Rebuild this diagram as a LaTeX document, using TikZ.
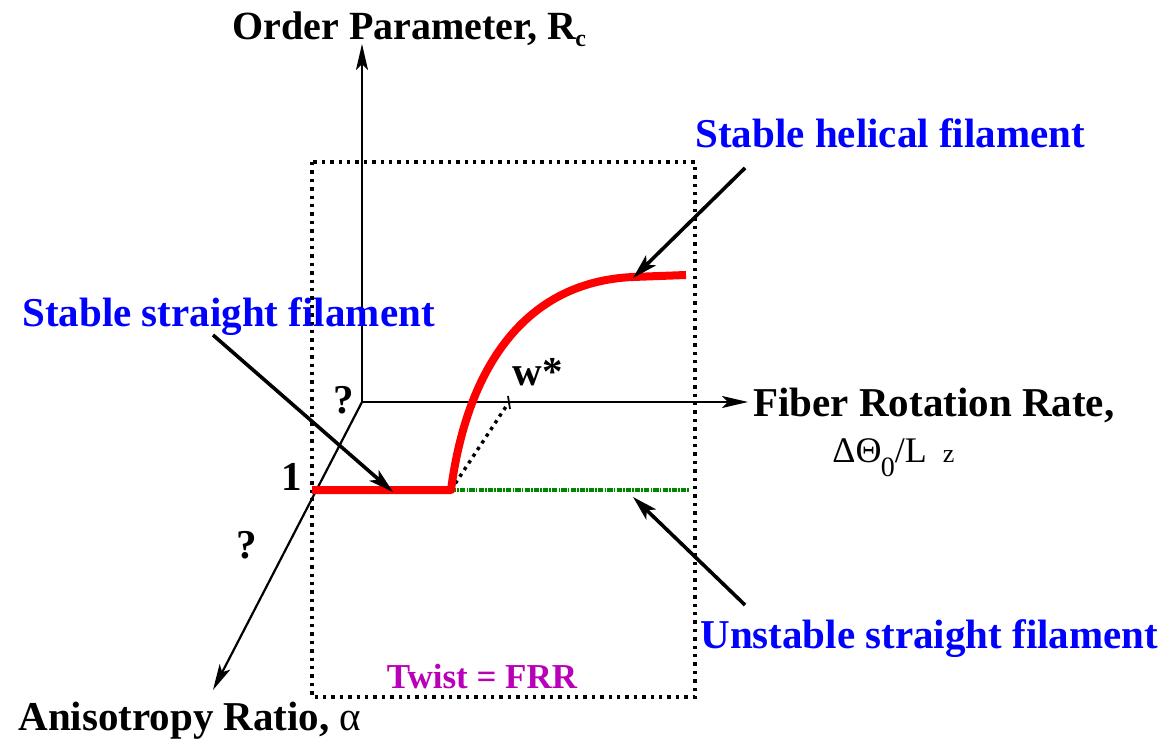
\documentclass[tikz,border=0pt]{standalone}
\usepackage{fontspec}
\setmainfont{Liberation Serif}
\usetikzlibrary{arrows.meta}
\definecolor{lblue}{RGB}{0,0,255}
\definecolor{lred}{RGB}{255,0,0}
\definecolor{lgreen}{RGB}{0,135,0}
\definecolor{lmag}{RGB}{185,0,185}
\begin{document}
\begin{tikzpicture}[x=0.5pt,y=-0.5pt,
  lbl/.style={inner sep=0pt,anchor=base west,font=\fontsize{20.5}{24}\selectfont\bfseries},
  bluelbl/.style={lbl,text=lblue},
  axis/.style={line width=1.1pt,-{Stealth[length=13pt,width=6pt,inset=3pt]}},
  pointer/.style={line width=1.8pt,-{Stealth[length=12.5pt,width=7pt,inset=3pt]}},
  boxline/.style={line width=1.8pt,dash pattern=on 1.7pt off 2.5pt},
]
\useasboundingbox (0,0) rectangle (1170,742);
% coordinates
\coordinate (O) at (362,402);
\coordinate (ytip) at (362,44);
\coordinate (xtip) at (748,402);
\coordinate (ztip) at (213,690);
\coordinate (B1) at (312,162);
\coordinate (B2) at (695,697);
\coordinate (r0) at (312,490);
\coordinate (r1) at (451,490);
\coordinate (r2) at (633,277);
\coordinate (r3) at (686,275);
\coordinate (g1) at (690,490);
\coordinate (wst) at (509,402);
\coordinate (wa) at (508,396);
\coordinate (wb) at (510,409);
% dotted box
\draw[boxline] (B1) rectangle (B2);
% axes
\draw[axis] (O) -- (ytip);
\draw[axis] (O) -- (xtip);
\draw[axis] (O) -- (ztip);
% green unstable branch
\draw[lgreen,line width=2.4pt,dash pattern=on 2.6pt off 0.6pt on 0.8pt off 0.6pt] (r1) -- (g1);
% dotted line to w*
\draw[line width=1.7pt,dash pattern=on 1.7pt off 2.3pt] (r1) -- (wst);
\draw[line width=0.9pt] (wa) -- (wb);
% red curve
\draw[lred,line width=4pt,line join=round] (r0) -- (r1) .. controls (466,375) and (520,282) .. (r2) -- (r3);
% labels
\node[lbl,font=\fontsize{20}{24}\selectfont\bfseries] (yl) at (232,40) {Order Parameter, R\kern-0.5pt\raisebox{-0.35ex}{\fontsize{12}{12}\selectfont c}};
\node[lbl] (xl) at (753,416) {Fiber Rotation Rate,};
\node[inner sep=0pt,anchor=base west,font=\fontsize{18}{20}\selectfont] (xl2) at (832,462) {ΔΘ\kern-0.3pt\raisebox{-7pt}{\fontsize{14}{14}\selectfont 0}/L\kern 8pt{\fontsize{13}{13}\selectfont z}};
\node[lbl] (zl) at (18,730) {Anisotropy Ratio, \mdseries α};
\node[lbl] (wl) at (512,386) {w*};
\node[lbl] (q1) at (333,414) {?};
\node[lbl] (q2) at (236,558) {?};
\node[lbl] (one) at (281,490) {1};
\node[inner sep=0pt,anchor=base,font=\fontsize{17.5}{20}\selectfont\bfseries,text=lmag] (tw) at (482,688) {Twist = FRR};
\node[bluelbl] (sh) at (695,148) {Stable helical filament};
\node[bluelbl] (ss) at (22,327) {Stable straight filament};
\node[bluelbl] (us) at (700,648) {Unstable straight filament};
% pointer arrows
\coordinate (p1s) at (213,335);
\coordinate (p1t) at (393,492);
\coordinate (p2s) at (745,168);
\coordinate (p2t) at (633,278);
\coordinate (p3s) at (745,605);
\coordinate (p3t) at (633,497);
\draw[pointer] (p1s) -- (p1t);
\draw[pointer] (p2s) -- (p2t);
\draw[pointer] (p3s) -- (p3t);
\end{tikzpicture}
\end{document}
